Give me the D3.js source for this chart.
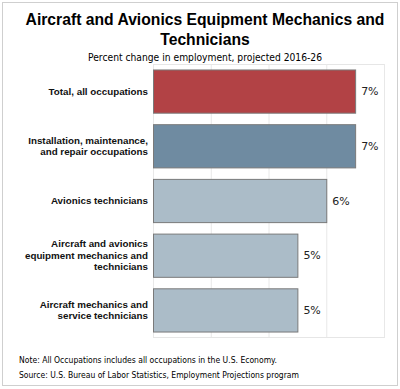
<!DOCTYPE html>
<html>
<head>
<meta charset="utf-8">
<script src="https://cdn.jsdelivr.net/npm/d3@7"></script>
<style>
  body { margin: 0; background: #fff; }
  svg { display: block; }
</style>
</head>
<body>
<div id="chart"></div>
<script>
var categories = [
  ["Total, all occupations"],
  ["Installation, maintenance,", "and repair occupations"],
  ["Avionics technicians"],
  ["Aircraft and avionics", "equipment mechanics and", "technicians"],
  ["Aircraft mechanics and", "service technicians"]
];
var values = [7, 7, 6, 5, 5];
var valueLabels = ["7%", "7%", "6%", "5%", "5%"];
var barColors = ["#b24245", "#6f8ba1", "#abbcc8", "#abbcc8", "#abbcc8"];
var xTicks = [0, 2, 4, 6, 8];

var width = 400, height = 389;
var plot = {left: 153, right: 384, top: 64, bottom: 337};

var svg = d3.select('#chart').append('svg')
            .attr('width', width).attr('height', height);

// outer frame
svg.append('rect')
   .attr('x', 2.5).attr('y', 2.5)
   .attr('width', 395).attr('height', 383)
   .attr('fill', 'none').attr('stroke', '#cfcfcf');

svg.append('text')
   .attr('x', 205).attr('y', 25)
   .attr('text-anchor', 'middle')
   .style('font', 'bold 15.7px "Liberation Sans", Arial, sans-serif')
   .text('Aircraft and Avionics Equipment Mechanics and');
svg.append('text')
   .attr('x', 205).attr('y', 45)
   .attr('text-anchor', 'middle')
   .style('font', 'bold 15.7px "Liberation Sans", Arial, sans-serif')
   .text('Technicians');
svg.append('text')
   .attr('x', 205).attr('y', 61)
   .attr('text-anchor', 'middle')
   .style('font', '11px "DejaVu Sans", Verdana, sans-serif')
   .attr('textLength', 234).attr('lengthAdjust', 'spacingAndGlyphs')
   .text('Percent change in employment, projected 2016-26');

var x = d3.scaleLinear().domain([0, 8]).range([plot.left, plot.right]);
var y = d3.scaleBand().domain(d3.range(values.length))
          .range([plot.top, plot.bottom]).paddingInner(0.21).paddingOuter(0.1);

// plot frame and gridlines
svg.append('rect')
   .attr('x', plot.left + 0.5).attr('y', plot.top + 0.5)
   .attr('width', plot.right - plot.left).attr('height', plot.bottom - plot.top)
   .attr('fill', 'none').attr('stroke', '#e6e6e6');

svg.append('g')
   .attr('transform', 'translate(0,' + plot.bottom + ')')
   .call(d3.axisBottom(x).tickValues(xTicks).tickSize(-(plot.bottom - plot.top)).tickFormat(''))
   .call(function(g) {
     g.select('.domain').remove();
     g.selectAll('.tick line').attr('stroke', '#e8e8e8');
   });

svg.selectAll('.bar')
   .data(values)
   .enter().append('rect')
   .attr('class', 'bar')
   .attr('x', x(0) + 0.5)
   .attr('y', function(d, i) { return y(i) + 0.5; })
   .attr('width', function(d) { return x(d) - x(0); })
   .attr('height', y.bandwidth())
   .attr('fill', function(d, i) { return barColors[i]; })
   .attr('stroke', '#7a7a7a');

svg.selectAll('.val')
   .data(values)
   .enter().append('text')
   .attr('class', 'val')
   .attr('x', function(d) { return x(d) + 6; })
   .attr('y', function(d, i) { return y(i) + y.bandwidth() / 2 + 4; })
   .style('font', '11px "DejaVu Sans", Verdana, sans-serif')
   .attr('fill', '#222')
   .text(function(d, i) { return valueLabels[i]; });

var cat = svg.selectAll('.cat')
   .data(categories)
   .enter().append('text')
   .attr('class', 'cat')
   .attr('text-anchor', 'end')
   .style('font', 'bold 9.8px "Liberation Sans", Arial, sans-serif')
   .attr('fill', '#111');
cat.each(function(lines, i) {
  var cy = y(i) + y.bandwidth() / 2;
  var lh = 11.5;
  var start = cy - (lines.length - 1) * lh / 2 + 3.5;
  d3.select(this).selectAll('tspan')
    .data(lines)
    .enter().append('tspan')
    .attr('x', 148)
    .attr('y', function(d, j) { return start + j * lh; })
    .text(function(d) { return d; });
});

svg.append('text')
   .attr('x', 19).attr('y', 363)
   .style('font', '8.5px "DejaVu Sans", Verdana, sans-serif')
   .attr('textLength', 258).attr('lengthAdjust', 'spacingAndGlyphs')
   .text('Note: All Occupations includes all occupations in the U.S. Economy.');
svg.append('text')
   .attr('x', 19).attr('y', 378)
   .style('font', '8.5px "DejaVu Sans", Verdana, sans-serif')
   .attr('textLength', 280).attr('lengthAdjust', 'spacingAndGlyphs')
   .text('Source: U.S. Bureau of Labor Statistics, Employment Projections program');
</script>
</body>
</html>
